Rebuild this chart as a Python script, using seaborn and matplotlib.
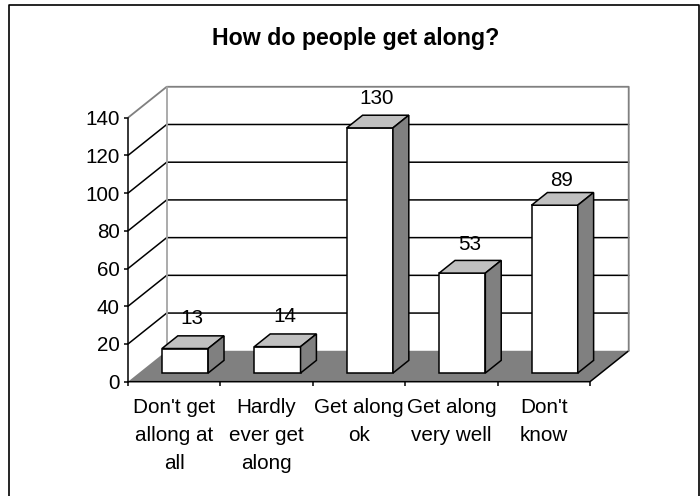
import matplotlib
matplotlib.use('Agg')
import matplotlib.pyplot as plt
from matplotlib.patches import Polygon
from matplotlib.lines import Line2D
import seaborn as sns

categories = ["Don't get\nallong at\nall", "Hardly\never get\nalong", "Get along\nok",
              "Get along\nvery well", "Don't\nknow"]
values = [13, 14, 130, 53, 89]
y_ticks = [0, 20, 40, 60, 80, 100, 120, 140]

sns.set_theme(style='white')
plt.rcParams['font.family'] = ['Liberation Sans', 'DejaVu Sans']

# depth of the fake 3d box, in data units
DX = 0.419
DY = 16.4
BAR_START = 0.28
BAR_DEPTH = 0.41
LW = 1.1
GREY = '#808080'
LIGHT = '#c0c0c0'
FS = 14.9

# how far each value label floats above its bar, in pixels
label_lift = [30.5, 30.5, 29, 28.5, 25]

fig = plt.figure(figsize=(7, 4.96), dpi=100, facecolor='white')
ax = fig.add_axes([128 / 700, (496 - 381.7) / 496, 462 / 700, 264 / 496])
ax.patch.set_alpha(0)

sns.barplot(x=categories, y=values, width=0.5, color='white', saturation=1,
            edgecolor='black', linewidth=LW, ax=ax, zorder=5)
ax.set_xlim(-0.5, 4.5)
ax.set_ylim(0, y_ticks[-1])

x0, x1 = ax.get_xlim()
y0, y1 = ax.get_ylim()

# floor
ax.add_patch(Polygon([(x0, y0), (x1, y0), (x1 + DX, y0 + DY), (x0 + DX, y0 + DY)],
                     closed=True, facecolor=GREY, edgecolor='none', zorder=1, clip_on=False))
ax.plot([x0, x1, x1 + DX], [y0, y0, y0 + DY], color='black', lw=LW, zorder=2, clip_on=False)

# walls and gridlines
for t in y_ticks[1:-1]:
    ax.plot([x0, x0 + DX, x1 + DX], [t, t + DY, t + DY], color='black', lw=LW, zorder=2, clip_on=False)
ax.plot([x0, x0 + DX, x1 + DX, x1 + DX], [y1, y1 + DY, y1 + DY, y0 + DY],
        color=GREY, lw=LW * 1.2, zorder=2, clip_on=False)
ax.plot([x0 + DX, x0 + DX], [y0 + DY, y1 + DY], color='#a6a6a6', lw=LW * 1.2, zorder=2, clip_on=False)

# push the seaborn bars into the box and give them a top and a side
for bar, val, lift in zip(ax.patches[:len(values)], values, label_lift):
    bx = bar.get_x() + BAR_START * DX
    by = BAR_START * DY
    w = bar.get_width()
    bar.set_x(bx)
    bar.set_y(by)
    bar.set_clip_on(False)
    ox = BAR_DEPTH * DX
    oy = BAR_DEPTH * DY
    ax.add_patch(Polygon([(bx, by + val), (bx + w, by + val), (bx + w + ox, by + val + oy), (bx + ox, by + val + oy)],
                         closed=True, facecolor=LIGHT, edgecolor='black', lw=LW, zorder=5, clip_on=False))
    ax.add_patch(Polygon([(bx + w, by), (bx + w + ox, by + oy), (bx + w + ox, by + val + oy), (bx + w, by + val)],
                         closed=True, facecolor=GREY, edgecolor='black', lw=LW, zorder=5, clip_on=False))
    ax.annotate(str(val), (bx + w / 2, by + val), xytext=(7, lift), textcoords='offset pixels',
                ha='center', va='center', fontsize=FS, color='black', zorder=6)

# ticks sit on category edges, labels between them
ax.set_xticks([i - 0.5 for i in range(len(values) + 1)])
ax.set_xticklabels([])
ax.set_xticks(range(len(values)), categories, minor=True, fontsize=FS, linespacing=1.6, color='black')
ax.set_yticks(y_ticks)
ax.tick_params(axis='x', which='major', length=3, width=LW, color='black', bottom=True)
ax.tick_params(axis='x', which='minor', length=0, pad=11.7, bottom=False, labelcolor='black')
ax.tick_params(axis='y', length=3, width=LW, color='black', left=True, labelsize=FS, pad=3, labelcolor='black')
ax.set_xlabel('')
ax.set_ylabel('')
for side in ['top', 'right', 'bottom']:
    ax.spines[side].set_visible(False)
ax.spines['left'].set_color('black')
ax.spines['left'].set_linewidth(LW)

fig.text(356 / 700, 1 - 38 / 496, 'How do people get along?', ha='center', va='center',
         fontsize=16.7, fontweight='bold', color='black')

# chart frame, its bottom edge falls outside the picture
fig.add_artist(Line2D([8.5 / 700, 8.5 / 700, 699 / 700, 699 / 700],
                      [0, 1 - 4.5 / 496, 1 - 4.5 / 496, 0],
                      transform=fig.transFigure, color='black', lw=1.2))

fig.savefig('out.png', dpi=100)
